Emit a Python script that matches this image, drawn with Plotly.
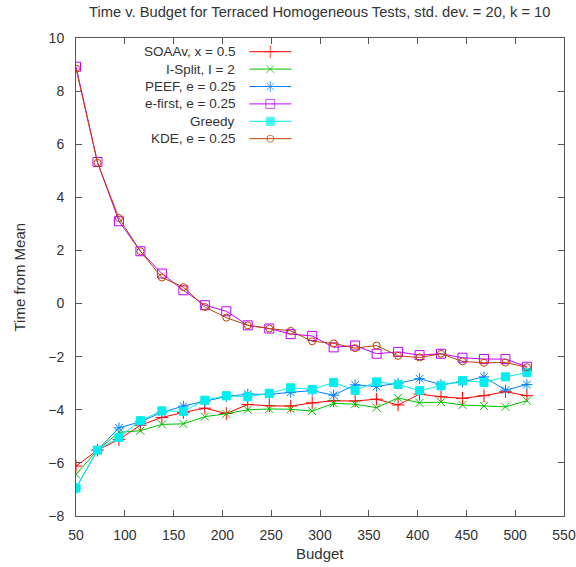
import plotly.graph_objects as go

budget = [50, 72, 94, 116, 138, 160, 182, 204, 226, 248, 270, 292, 314, 336, 358, 380, 402, 424, 446, 468, 490, 512]

soaav = [-6.12, -5.52, -5.12, -4.58, -4.29, -4.10, -3.94, -4.14, -3.80, -3.85, -3.86, -3.74, -3.66, -3.67, -3.60, -3.82, -3.41, -3.51, -3.57, -3.47, -3.32, -3.47]
isplit = [-6.43, -5.52, -4.85, -4.79, -4.55, -4.53, -4.26, -4.15, -4.00, -3.97, -3.98, -4.05, -3.76, -3.79, -3.92, -3.55, -3.74, -3.71, -3.82, -3.86, -3.89, -3.66]
peef = [-6.95, -5.52, -4.68, -4.45, -4.10, -3.86, -3.68, -3.50, -3.41, -3.42, -3.34, -3.28, -3.45, -3.06, -3.12, -3.00, -2.83, -3.05, -2.95, -2.76, -3.26, -3.05]
efirst = [8.92, 5.33, 3.10, 1.97, 1.13, 0.50, -0.06, -0.29, -0.82, -0.94, -1.15, -1.22, -1.65, -1.58, -1.89, -1.82, -1.94, -1.89, -2.04, -2.09, -2.09, -2.38]
greedy = [-6.95, -5.52, -5.04, -4.41, -4.04, -4.06, -3.64, -3.47, -3.51, -3.38, -3.17, -3.23, -2.97, -3.27, -2.95, -3.05, -3.28, -3.10, -2.90, -2.97, -2.76, -2.60]
kde = [8.85, 5.30, 3.22, 1.97, 0.98, 0.62, -0.13, -0.53, -0.82, -0.94, -1.03, -1.42, -1.50, -1.68, -1.58, -1.97, -2.03, -1.89, -2.18, -2.23, -2.22, -2.40]

names = ["SOAAv, x = 0.5", "I-Split, I = 2", "PEEF, e = 0.25", "e-first, e = 0.25", "Greedy", "KDE, e = 0.25"]
series = [soaav, isplit, peef, efirst, greedy, kde]
colors = ["#ff0000", "#00c000", "#0080ff", "#c000ff", "#00eeee", "#c04000"]
symbols = ["cross-thin-open", "x-thin-open", "asterisk-open", "square-open", "square", "circle-open"]
sizes = [9, 8, 9, 9, 8, 7]

FONT = "Liberation Sans, Arial, sans-serif"
TXT = "#333333"
W, H = 576, 567
L, R, T, B = 75.5, 12, 38, 51
PX0, PX1 = L, W - R
PY0, PY1 = T, H - B

fig = go.Figure()
for name, ys, c, s, sz in zip(names, series, colors, symbols, sizes):
    fig.add_trace(go.Scatter(
        x=budget, y=ys, mode="lines+markers", name=name, showlegend=False,
        line=dict(color=c, width=1),
        marker=dict(symbol=s, size=sz, color=c, line=dict(color=c, width=1)),
    ))

# gnuplot-style key: text right-aligned, sample line with marker to its right
key_text_right = 237
key_x0, key_mid, key_x1 = 249, 270, 291
key_y0, key_dy = 51.7, 17.4
for i, (name, c, s, sz) in enumerate(zip(names, colors, symbols, sizes)):
    yy = key_y0 + key_dy * i
    fig.add_trace(go.Scatter(
        x=[key_x0, key_mid, key_x1], y=[yy, yy, yy], mode="lines+markers",
        xaxis="x2", yaxis="y2", showlegend=False, hoverinfo="skip",
        line=dict(color=c, width=1),
        marker=dict(symbol=s, size=[0, sz, 0], color=c, line=dict(color=c, width=1)),
    ))
    fig.add_annotation(x=key_text_right, y=yy, xref="x2", yref="y2", text=name,
                       showarrow=False, xanchor="right", yanchor="middle",
                       font=dict(family=FONT, size=13.5, color=TXT))

axis_common = dict(
    showline=True, mirror="ticks", linecolor="#555555", linewidth=1,
    ticks="inside", ticklen=6, tickcolor="#555555", tickwidth=1,
    showgrid=False, zeroline=False, automargin=False,
    tickfont=dict(family=FONT, size=14, color=TXT),
)

fig.update_layout(
    width=W, height=H, autosize=False,
    margin=dict(l=L, r=R, t=T, b=B, pad=0, autoexpand=False),
    paper_bgcolor="white", plot_bgcolor="white",
    title=dict(text="Time v. Budget for Terraced Homogeneous Tests, std. dev. = 20, k = 10",
               x=(PX0 + PX1) / 2 / W, xanchor="center", y=1 - 12 / H, yanchor="middle",
               font=dict(family=FONT, size=14.7, color=TXT)),
    xaxis=dict(range=[50, 550], dtick=50, tick0=50, ticklabelstandoff=6, **axis_common),
    yaxis=dict(range=[-8, 10], dtick=2, tick0=-8, ticklabelstandoff=8, **axis_common),
    xaxis2=dict(range=[PX0, PX1], overlaying="x", visible=False, fixedrange=True),
    yaxis2=dict(range=[PY1, PY0], overlaying="y", visible=False, fixedrange=True),
    showlegend=False,
)

fig.add_annotation(text="Budget", xref="paper", yref="paper", x=0.5, y=0,
                   yshift=-(553 - PY1), xanchor="center", yanchor="middle", showarrow=False,
                   font=dict(family=FONT, size=15, color=TXT))
fig.add_annotation(text="Time from Mean", xref="paper", yref="paper", x=0, y=0.5,
                   xshift=-(PX0 - 18), xanchor="center", yanchor="middle", textangle=-90,
                   showarrow=False, font=dict(family=FONT, size=15, color=TXT))

post = ("document.body.style.margin='0';"
        "document.body.style.overflow='hidden';"
        "document.documentElement.style.overflow='hidden';"
        "Plotly.Plots.resize(document.getElementById('{plot_id}'));")

fig.write_html("out.html", post_script=post,
               config={"responsive": False, "displayModeBar": False})
